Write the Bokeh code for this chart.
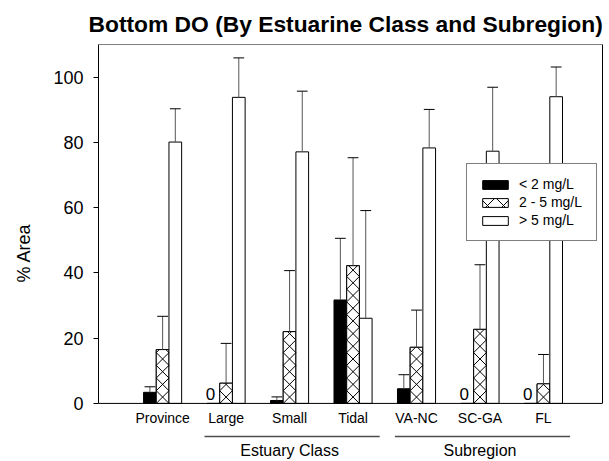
import numpy as np
from bokeh.plotting import figure
from bokeh.models import (Range1d, LinearAxis, FixedTicker, Span, Legend,
                          LegendItem, Title)
from bokeh.core.properties import value
from bokeh.embed import file_html
from bokeh.resources import INLINE

# ---- data -------------------------------------------------------------
categories = ["Province", "Large", "Small", "Tidal", "VA-NC", "SC-GA", "FL"]
groups = ["Estuary Class", "Subregion"]
group_members = [["Large", "Small", "Tidal"], ["VA-NC", "SC-GA", "FL"]]
series_labels = ["< 2 mg/L", "2 - 5 mg/L", "> 5 mg/L"]

low_do = [3.4, 0.0, 0.9, 31.7, 4.5, 0.0, 0.0]
low_do_err = [1.7, 0.0, 1.1, 18.9, 4.3, 0.0, 0.0]
mid_do = [16.5, 6.2, 22.0, 42.2, 17.2, 22.7, 6.0]
mid_do_err = [10.2, 12.2, 18.7, 33.1, 11.4, 19.8, 9.0]
high_do = [80.1, 93.8, 77.1, 26.1, 78.3, 77.3, 94.0]
high_do_err = [10.2, 12.1, 18.6, 33.0, 11.8, 19.6, 9.1]

y_ticks = [0, 20, 40, 60, 80, 100]

# ---- geometry / styling -----------------------------------------------
FONT = "Liberation Sans"
W, H = 609, 461
BORDER_L, BORDER_R, BORDER_T = 98, 7, 44
X_RANGE = (-0.01, 7.93)
Y_RANGE = (-17.8, 110)
BAR_W = 0.2
CAP_HALF = 0.085

xs = np.arange(1, len(categories) + 1, dtype=float)
pos = {c: x for c, x in zip(categories, xs)}

p = figure(width=W, height=H,
           x_range=Range1d(*X_RANGE), y_range=Range1d(*Y_RANGE),
           x_axis_location=None, y_axis_location=None,
           toolbar_location=None, output_backend="svg",
           min_border_left=BORDER_L, min_border_right=BORDER_R,
           min_border_top=BORDER_T, min_border_bottom=0,
           outline_line_color=None,
           background_fill_color="white", border_fill_color="white")
p.xgrid.visible = False
p.ygrid.visible = False

p.title = Title(text="Bottom DO (By Estuarine Class and Subregion)",
                align="left", offset=-10, text_font=FONT,
                text_font_style="bold", text_font_size="22.8px",
                text_color="black", standoff=16)

# left value axis
yaxis = LinearAxis(bounds=(0, Y_RANGE[1]), ticker=FixedTicker(ticks=y_ticks),
                   axis_label="% Area")
yaxis.axis_line_color = "black"
yaxis.major_tick_line_color = "black"
yaxis.major_tick_out = 5
yaxis.major_tick_in = 0
yaxis.minor_tick_line_color = None
yaxis.major_label_standoff = 10
yaxis.major_label_text_font = FONT
yaxis.major_label_text_font_size = "18px"
yaxis.major_label_text_color = "black"
yaxis.axis_label_text_font = FONT
yaxis.axis_label_text_font_size = "18px"
yaxis.axis_label_text_font_style = "normal"
yaxis.axis_label_text_color = "black"
yaxis.axis_label_standoff = 16
p.add_layout(yaxis, "left")

# right edge of the plot box
raxis = LinearAxis(bounds=(0, Y_RANGE[1]), ticker=FixedTicker(ticks=[]))
raxis.axis_line_color = "black"
raxis.major_tick_out = 0
raxis.major_tick_in = 0
raxis.minor_tick_line_color = None
raxis.major_label_standoff = 0
raxis.major_label_text_font_size = "0px"
p.add_layout(raxis, "right")

# top and bottom edges of the plot box
p.add_layout(Span(location=Y_RANGE[1], dimension="width", line_color="black", line_width=1))
p.add_layout(Span(location=0, dimension="width", line_color="black", line_width=1))

# ---- bars -------------------------------------------------------------
offsets = [-BAR_W, 0.0, BAR_W]

r_low = p.vbar(x=xs + offsets[0], top=low_do, width=BAR_W, bottom=0,
               fill_color="black", line_color="black", line_width=1)
# hatched 2-5 mg/L bars (this renderer also supplies the legend key)
r_mid = p.vbar(x=xs + offsets[1], top=mid_do, width=BAR_W, bottom=0,
               fill_color="white", line_color="black", line_width=1,
               hatch_pattern="diagonal_cross", hatch_color="black",
               hatch_scale=16, hatch_weight=1)
# plain face laid over them; the cells are drawn as explicit strokes below
p.vbar(x=xs + offsets[1], top=mid_do, width=BAR_W, bottom=0,
       fill_color="white", line_color="black", line_width=1)
r_high = p.vbar(x=xs + offsets[2], top=high_do, width=BAR_W, bottom=0,
                fill_color="white", line_color="black", line_width=1)

# cross-hatch for the 2-5 mg/L bars: one "X" per square cell, stacked from the base
px_per_x = (W - BORDER_L - BORDER_R) / (X_RANGE[1] - X_RANGE[0])
px_per_y = (H - BORDER_T) / (Y_RANGE[1] - Y_RANGE[0])
cell = BAR_W * px_per_x / px_per_y          # cell height in y units (square on screen)
hx0, hy0, hx1, hy1 = [], [], [], []
for xc, top in zip(xs + offsets[1], mid_do):
    xl, xr = xc - BAR_W / 2, xc + BAR_W / 2
    y = 0.0
    while y < top - 1e-9:
        h = min(cell, top - y)
        f = h / cell
        # rising stroke
        hx0.append(xl); hy0.append(y); hx1.append(xl + f * BAR_W); hy1.append(y + h)
        # falling stroke
        if h >= cell - 1e-9:
            hx0.append(xl); hy0.append(y + cell); hx1.append(xr); hy1.append(y)
        else:
            hx0.append(xr - f * BAR_W); hy0.append(y + h); hx1.append(xr); hy1.append(y)
        y += cell
p.segment(x0=hx0, y0=hy0, x1=hx1, y1=hy1, line_color="black", line_width=1)

# upper error bars
vals = [low_do, mid_do, high_do]
errs = [low_do_err, mid_do_err, high_do_err]
for off, v, e in zip(offsets, vals, errs):
    v = np.asarray(v)
    e = np.asarray(e)
    m = e > 0
    bx = xs[m] + off
    lo = v[m]
    hi = v[m] + e[m]
    p.segment(x0=bx, y0=lo, x1=bx, y1=hi, line_color="#555555", line_width=1)
    p.segment(x0=bx - CAP_HALF, y0=hi, x1=bx + CAP_HALF, y1=hi,
              line_color="black", line_width=1)

# "0" markers for empty low-DO classes
zero = np.asarray(low_do) == 0
p.text(x=xs[zero] + offsets[0], y=np.zeros(zero.sum()), text=["0"] * int(zero.sum()),
       text_align="center", text_baseline="alphabetic", x_offset=-3, y_offset=-9,
       text_font=value(FONT), text_font_size="17px", text_color="black")

# ---- category and group labels below the box --------------------------
p.text(x=xs, y=np.zeros(len(xs)), text=categories,
       text_align="center", text_baseline="alphabetic", y_offset=15,
       text_font=value(FONT), text_font_size="14px", text_color="black")

rule_y = -33 / px_per_y
for name, members in zip(groups, group_members):
    mx = [pos[c] for c in members]
    p.segment(x0=[min(mx) - 0.34], y0=[rule_y], x1=[max(mx) + 0.42], y1=[rule_y],
              line_color="#4d4d4d", line_width=1.5)
    p.text(x=[float(np.mean(mx))], y=[0], text=[name],
           text_align="center", text_baseline="alphabetic", y_offset=47,
           text_font=value(FONT), text_font_size="16px", text_color="black")

# ---- legend -----------------------------------------------------------
legend = Legend(items=[LegendItem(label=s, renderers=[r])
                       for s, r in zip(series_labels, [r_low, r_mid, r_high])],
                location=(368, 220), margin=0, padding=12, spacing=2,
                glyph_width=32, glyph_height=11, label_height=16,
                label_width=65, label_standoff=8,
                label_text_font=FONT, label_text_font_size="14px",
                label_text_color="black",
                border_line_color="black", border_line_width=1,
                background_fill_color="white", background_fill_alpha=1.0)
p.add_layout(legend)

open("out.html", "w").write(file_html(p, INLINE))
